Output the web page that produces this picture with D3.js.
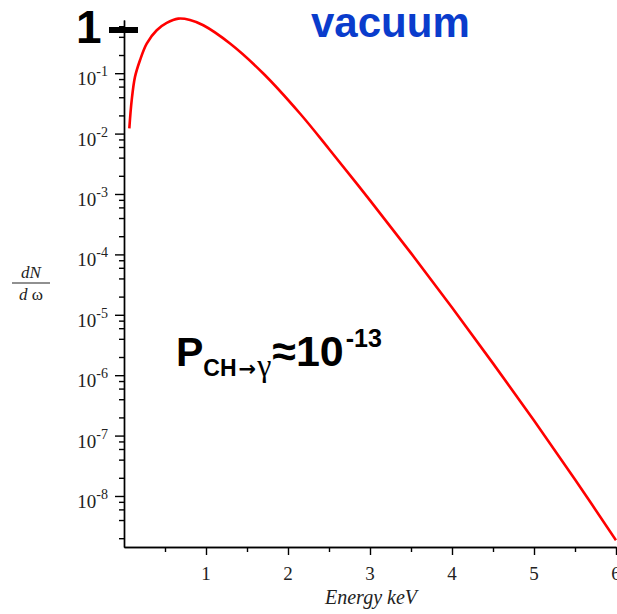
<html>
  <head>
    <style>
      body { margin: 0; background: #fff; overflow: hidden; }
      .axis path, .axis line { stroke: #000; stroke-width: 1.4px; }
      .tick-label { font-family: "Liberation Serif", "DejaVu Serif", serif; fill: #222; }
    </style>
  </head>
  <body>
    <script src="https://d3js.org/d3.v7.min.js"></script>
    <script>
    var width = 617, height = 614;

    // spectrum (energy in keV, dN/dω)
    var energy = [0.065, 0.094, 0.134, 0.195, 0.277, 0.399, 0.521, 0.662, 0.805, 0.967, 1.293, 1.699, 2.146, 2.5, 3.0, 3.5, 4.0, 4.5, 5.0, 5.5, 6.0];
    var dNdw = [0.0122, 0.0357, 0.0869, 0.164, 0.310, 0.515, 0.680, 0.80, 0.76, 0.622, 0.310, 0.0989, 0.0215, 5.57e-3, 7.85e-4, 1.05e-4, 1.32e-5, 1.57e-6, 1.77e-7, 1.87e-8, 1.85e-9];

    var xMajor = [1, 2, 3, 4, 5, 6];
    var xMinor = [0.5, 1.5, 2.5, 3.5, 4.5, 5.5];
    var yExponents = [-1, -2, -3, -4, -5, -6, -7, -8];
    var yMinorMult = [2, 4, 6, 8];

    var svg = d3.select("body")
        .append("svg")
        .attr("width", width)
        .attr("height", height);

    var x = d3.scaleLinear().domain([0, 6]).range([124, 616]);
    var y = d3.scaleLog().domain([1.43e-9, 0.76]).range([547, 20]);

    // minor log ticks
    var yMinor = [];
    for (var e = -9; e <= -1; e++) {
      yMinorMult.forEach(function(m){
        var v = m * Math.pow(10, e);
        if (v >= y.domain()[0] && v <= y.domain()[1]) yMinor.push(v);
      });
    }

    svg.append("g")
        .attr("class", "axis")
        .attr("transform", "translate(124,0)")
        .call(d3.axisLeft(y).tickValues(yMinor).tickSize(5).tickSizeOuter(0).tickFormat(""));

    svg.append("g")
        .attr("class", "axis")
        .attr("transform", "translate(124,0)")
        .call(d3.axisLeft(y).tickValues(yExponents.map(function(k){ return Math.pow(10, k); })).tickSize(9).tickSizeOuter(0).tickFormat(""));

    svg.append("g")
        .attr("class", "axis")
        .attr("transform", "translate(0,547)")
        .call(d3.axisBottom(x).tickValues(xMinor).tickSize(5).tickSizeOuter(0).tickFormat(""));

    svg.append("g")
        .attr("class", "axis")
        .attr("transform", "translate(0,547)")
        .call(d3.axisBottom(x).tickValues(xMajor).tickSize(8).tickSizeOuter(0).tickFormat(""));

    // y tick labels 10^k
    yExponents.forEach(function(k){
      var t = svg.append("text")
          .attr("class", "tick-label")
          .attr("x", 108)
          .attr("y", y(Math.pow(10, k)) + 12)
          .attr("text-anchor", "end")
          .style("font-size", "19px");
      t.append("tspan").text("10");
      t.append("tspan").attr("dy", -9).style("font-size", "14px").text("-" + Math.abs(k));
    });

    // x tick labels
    svg.selectAll(".xlab")
        .data(xMajor)
        .enter().append("text")
        .attr("class", "tick-label")
        .attr("x", function(d){ return x(d); })
        .attr("y", 580)
        .attr("text-anchor", "middle")
        .style("font-size", "19px")
        .text(function(d){ return d; });

    svg.append("text")
        .attr("class", "tick-label")
        .attr("x", 371)
        .attr("y", 604)
        .attr("text-anchor", "middle")
        .style("font-size", "20px")
        .style("font-style", "italic")
        .text("Energy keV");

    // dN / dω
    svg.append("text").attr("class", "tick-label").attr("x", 31).attr("y", 278)
        .attr("text-anchor", "middle").style("font-size", "17px").style("font-style", "italic").text("dN");
    svg.append("line").attr("x1", 12).attr("x2", 50).attr("y1", 283).attr("y2", 283)
        .attr("stroke", "#222").attr("stroke-width", 1.2);
    svg.append("text").attr("class", "tick-label").attr("x", 31).attr("y", 300)
        .attr("text-anchor", "middle").style("font-size", "17px").html("<tspan font-style='italic'>d</tspan> ω");

    // the curve
    var line = d3.line()
        .x(function(d, i){ return x(energy[i]); })
        .y(function(d, i){ return y(dNdw[i]); })
        .curve(d3.curveCatmullRom.alpha(0.5));

    svg.append("path")
        .datum(dNdw)
        .attr("fill", "none")
        .attr("stroke", "#ff0000")
        .attr("stroke-width", 2.6)
        .attr("d", line);

    // annotations
    svg.append("text")
        .attr("x", 76).attr("y", 43)
        .style("font-family", "Liberation Sans, Arial, sans-serif")
        .style("font-weight", "bold")
        .style("font-size", "46px")
        .text("1");
    svg.append("rect")
        .attr("x", 109).attr("y", 27).attr("width", 29).attr("height", 6)
        .attr("fill", "#000");

    svg.append("text")
        .attr("x", 311).attr("y", 37)
        .style("font-family", "Liberation Sans, Arial, sans-serif")
        .style("font-weight", "bold")
        .style("font-size", "42px")
        .attr("fill", "#0a3ccc")
        .text("vacuum");

    var p = svg.append("text")
        .attr("x", 176).attr("y", 366)
        .style("font-family", "Liberation Sans, Arial, sans-serif")
        .style("font-weight", "bold")
        .style("font-size", "41px")
        .attr("fill", "#000");
    p.append("tspan").text("P");
    p.append("tspan").attr("dy", 10).style("font-size", "23px").text("CH");
    p.append("tspan").attr("dx", 2).style("font-size", "21px").style("font-family", "DejaVu Sans, sans-serif").text("→");
    p.append("tspan").attr("dx", 1).style("font-size", "32px").style("font-family", "Liberation Serif, serif").style("font-weight", "normal").text("γ");
    p.append("tspan").attr("dy", -10).attr("dx", 1).style("font-size", "43px").text("≈10");
    p.append("tspan").attr("dy", -19).attr("dx", 2).style("font-size", "25px").text("-13");
    </script>
  </body>
</html>
